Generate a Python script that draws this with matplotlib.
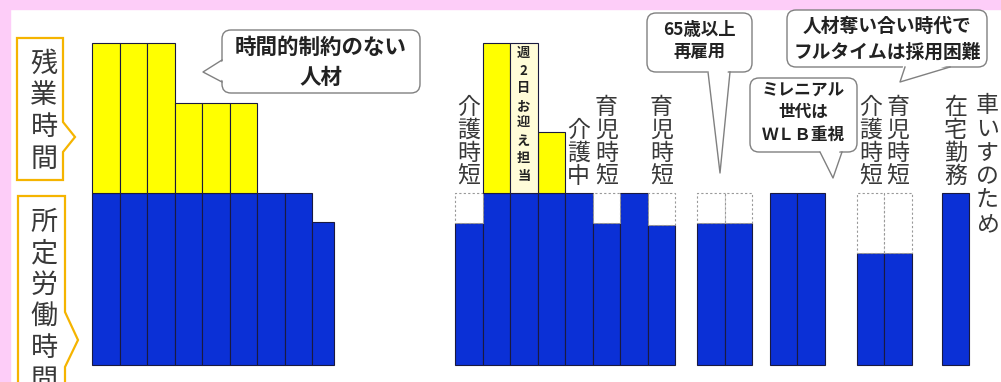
import matplotlib
matplotlib.use("Agg")
import matplotlib.pyplot as plt
from matplotlib.patches import Rectangle, FancyBboxPatch, Polygon

plt.rcParams['font.family'] = ['Noto Sans CJK JP', 'DejaVu Sans']

# 所定労働時間 (h) : 1人1本, 6つのチーム
base_hours = [
    [8, 8, 8, 8, 8, 8, 8, 8, 6.65],
    [6.6, 8, 8, 8, 8, 6.6, 8, 6.5],
    [6.6, 6.6],
    [8, 8],
    [5.2, 5.2],
    [8],
]
# 残業時間 (h)
over_hours = [
    [7, 7, 7, 4.2, 4.2, 4.2, 0, 0, 0],
    [0, 7, 0, 2.85, 0, 0, 0, 0],
    [0, 0],
    [0, 0],
    [0, 0],
    [0],
]
# バーの上の縦書きラベル (group, index)
bar_labels = {
    (1, 0): '介護時短', (1, 4): '介護中', (1, 5): '育児時短', (1, 7): '育児時短',
    (4, 0): '介護時短', (4, 1): '育児時短', (5, 0): '在宅勤務',
}
side_label = '車いすのため'
note_label = '週2日お迎え担当'
note_hours = 7
axis_labels = ['残業時間', '所定労働時間']
callouts = ['時間的制約のない\n人材', '65歳以上\n再雇用',
            '人材奪い合い時代で\nフルタイムは採用困難', 'ミレニアル\n世代は\nＷＬＢ重視']

# レイアウト
STD = 8
group_start = [0, 13.2, 22.0, 24.65, 27.8, 30.9]
show_gap = [False, True, True, False, True, False]
PXX, PXY, X0, Y0 = 27.5, 21.5, 92, 365
W, H = 1001, 382

BLUE = '#0b30d6'
YELLOW = '#ffff00'
EDGE = '#1a1a40'
GRAY = '#808080'
PINK = '#fdcdf8'
ORANGE = '#f5b400'
TXT = '#383838'

fig = plt.figure(figsize=(W / 100, H / 100), dpi=100)
ax = fig.add_axes([0, 0, 1, 1])
ax.set_xlim(-X0 / PXX, (W - X0) / PXX)
ax.set_ylim(-(H - Y0) / PXY, Y0 / PXY)
ax.axis('off')

ov = fig.add_axes([0, 0, 1, 1], zorder=3)
ov.set_xlim(0, W)
ov.set_ylim(H, 0)
ov.axis('off')


def vtext(axis, x, y_first, dy, s, **kw):
    for i, ch in enumerate(s):
        axis.text(x, y_first + i * dy, ch, ha='center', va='center', **kw)


step = 23 / PXY
for g, (bs, os_) in enumerate(zip(base_hours, over_hours)):
    n = len(bs)
    xs = [group_start[g] + i for i in range(n)]
    ws = [1.0] * n
    if g == 0:
        ws[-1] = 0.8
    ax.bar(xs, bs, width=ws, align='edge', color=BLUE, edgecolor=EDGE, linewidth=0.8)
    for x, w, b, o in zip(xs, ws, bs, os_):
        if o > 0:
            ax.bar(x, o, bottom=b, width=w, align='edge', color=YELLOW,
                   edgecolor=EDGE, linewidth=0.8)
        if show_gap[g] and b < STD:
            ax.bar(x, STD - b, bottom=b, width=w, align='edge', color='white',
                   edgecolor='#999999', linewidth=0.8, linestyle=(0, (2, 2)))
    for i in range(n):
        lab = bar_labels.get((g, i))
        if lab:
            top = 8.25 + len(lab) * step
            vtext(ax, xs[i] + 0.5, top - step / 2, -step, lab, fontsize=16.5, color=TXT)

# 週2日お迎え担当
nx = group_start[1] + 2
ax.bar(nx, note_hours, bottom=STD, width=1, align='edge', color='#fffcd8',
       edgecolor=EDGE, linewidth=0.8)
vtext(ax, nx + 0.5, STD + note_hours - 0.5, -17.5 / PXY, note_label,
      fontsize=9.5, weight='bold', color='#222222')

# 車いすのため
vtext(ax, group_start[5] + 1.65, 12.6 - 11.8 / PXY, -23.7 / PXY, side_label,
      fontsize=16.5, color=TXT)

# 枠 (ピンク)
ov.add_patch(Rectangle((0, 0), W, 9, color=PINK, zorder=1))
ov.add_patch(Rectangle((0, 0), 10, H, color=PINK, zorder=1))

# 左の見出し
ov.add_patch(Polygon([(17, 38), (63, 38), (63, 122), (75, 137), (63, 152), (63, 180), (17, 180)],
                     closed=True, fc='white', ec=ORANGE, lw=1.6, zorder=2))
ov.add_patch(Polygon([(18, 196), (65, 196), (65, 312), (78, 340), (65, 367), (65, 395), (18, 395)],
                     closed=True, fc='white', ec=ORANGE, lw=1.6, zorder=2))
vtext(ov, 44, 64, 31.7, axis_labels[0], fontsize=19.5, color=TXT, zorder=3)
vtext(ov, 44, 222, 31.7, axis_labels[1], fontsize=19.5, color=TXT, zorder=3)


def bubble(box, base, tip, text, ys, fs):
    x0, y0, x1, y1 = box
    ov.add_patch(FancyBboxPatch((x0, y0), x1 - x0, y1 - y0,
                                boxstyle='round,pad=0,rounding_size=9',
                                fc='white', ec=GRAY, lw=1.0, zorder=4))
    cx, cy = (x0 + x1) / 2, (y0 + y1) / 2
    inner = []
    for bx, by in base:
        dx, dy = cx - bx, cy - by
        d = (dx * dx + dy * dy) ** 0.5
        inner.append((bx + dx / d * 3, by + dy / d * 3))
    ov.add_patch(Polygon([inner[0], inner[1], tip], closed=True, fc='white',
                         ec='none', zorder=5))
    ov.plot([base[0][0], tip[0], base[1][0]], [base[0][1], tip[1], base[1][1]],
            color=GRAY, lw=1.0, zorder=6)
    for line, y in zip(text.split('\n'), ys):
        ov.text(cx, y, line, ha='center', va='center', fontsize=fs,
                weight='bold', color='#222222', zorder=7)


bubble((222, 30, 420, 93), [(222, 60), (222, 82)], (203, 72), callouts[0], [47, 77], 15.5)
bubble((647, 13, 752, 72), [(708, 72), (730, 72)], (720, 173), callouts[1], [30, 52], 12.5)
bubble((787, 10, 987, 67), [(905, 67), (950, 67)], (900, 82), callouts[2], [26, 52], 13.5)
bubble((750, 78, 857, 152), [(820, 152), (842, 152)], (833, 178), callouts[3], [90, 112, 135], 12)

fig.savefig('out.png', dpi=100, facecolor='white')
